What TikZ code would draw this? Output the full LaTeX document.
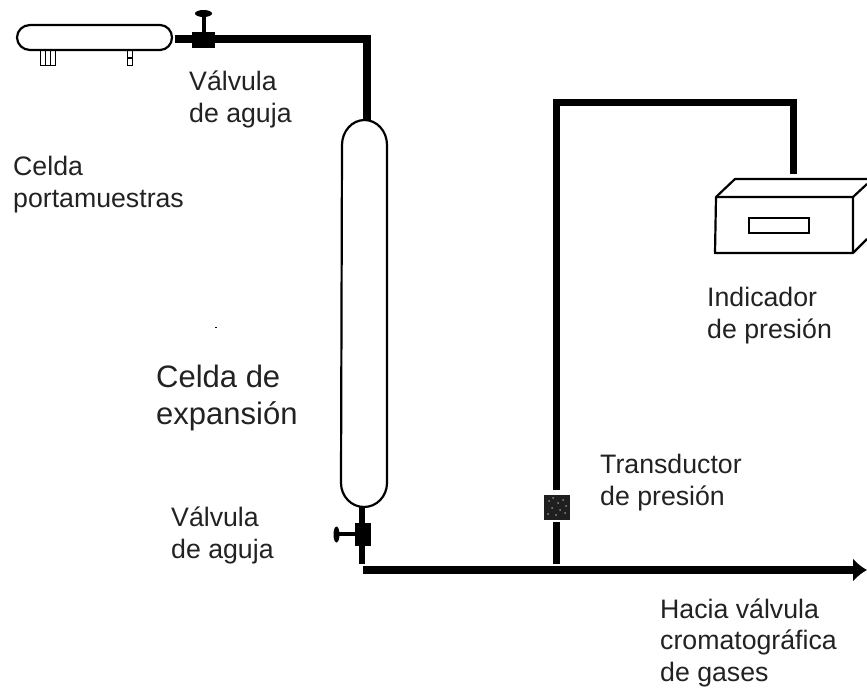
\documentclass[tikz,border=0pt]{standalone}
\usepackage{fontspec}
\setmainfont{Liberation Sans}
\usetikzlibrary{arrows.meta}
\definecolor{txt}{HTML}{222222}
\tikzset{
  x=1pt,y=-1pt,
  lab/.style={font=\fontsize{26.7}{31.3}\selectfont,text=txt,align=left,anchor=base west,inner sep=0pt},
  big/.style={font=\fontsize{31}{37}\selectfont,text=txt,align=left,anchor=base west,inner sep=0pt},
  pipe/.style={line width=8pt,black},
  thin pipe/.style={line width=7pt,black},
  outline/.style={line width=2.2pt,black,fill=white,line join=round},
  valve/.style={fill=black,draw=none,inner sep=0pt},
}
\begin{document}
\begin{tikzpicture}
\useasboundingbox (0,0) rectangle (867,688);
% sample cell
\draw[outline] (30,25) -- (160,25) arc[start angle=-90,end angle=90,x radius=12,y radius=12.5] -- (30,50) arc[start angle=90,end angle=270,x radius=13,y radius=12.5] -- cycle;
\node[draw=black,line width=1.5pt,minimum width=15pt,minimum height=15pt,inner sep=0pt] (legA) at (48,58) {};
\draw[line width=1.2pt] (45.5,51) -- (45.5,65) (50.5,51) -- (50.5,65);
\node[draw=black,line width=1.5pt,minimum width=5pt,minimum height=15pt,inner sep=0pt] (legB) at (130,58) {};
\draw[line width=1.2pt] (127,58) -- (133,58);
% top valve and pipe
\node[valve,minimum width=23pt,minimum height=16pt] (v1) at (203.5,39.5) {};
\coordinate (cellOut) at (175,39);
\coordinate (corner1) at (366.5,39);
\coordinate (expTop) at (366.5,122);
\draw[pipe,line join=miter] (cellOut) -- (corner1) -- (expTop);
\draw[line width=4pt] (204,32) -- (204,15);
\fill (203.5,13.5) ellipse[x radius=8.5,y radius=3.5];
% expansion cell
\draw[outline] (342,145) arc[start angle=180,end angle=360,x radius=22.5,y radius=25] -- (387,483) arc[start angle=0,end angle=180,x radius=23,y radius=24] -- cycle;
% bottom valve
\node[valve,minimum width=16pt,minimum height=23pt] (v2) at (363,534.5) {};
\coordinate (expBot) at (362,507);
\coordinate (stub) at (362,564);
\draw[line width=6pt] (expBot) -- (stub);
\draw[line width=3.5pt] (355,534) -- (338,534);
\fill (336.5,534.5) ellipse[x radius=3,y radius=8];
% main line
\coordinate (lineStart) at (363,570);
\coordinate (lineEnd) at (867,570);
\draw[pipe,-{Latex[length=14pt,width=24pt]}] (lineStart) -- (lineEnd);
% transducer
\node[fill=black!88,minimum width=26pt,minimum height=25pt,inner sep=0pt] (tr) at (557,507.5) {};
\foreach \px/\py in {549/501,553/498,558/503,563/500,566/506,552/508,560/510,565/513,548/514,556/515}
  \fill[black!45] (\px,\py) circle[radius=1];
\coordinate (tap) at (556.5,564);
\coordinate (corner2) at (556.5,102);
\coordinate (corner3) at (793.5,102);
\coordinate (indTop) at (793.5,174);
\draw[thin pipe] (tap) -- (556.5,522);
\draw[thin pipe,line join=miter] (556.5,490) -- (corner2) -- (corner3) -- (indTop);
% indicator
\draw[line width=2.2pt,line join=round] (716,197) -- (735,179) -- (867,179);
\draw[outline] (716,197) -- (853,197) -- (853,253) -- (715,253) -- cycle;
\draw[line width=2.2pt] (853,197) -- (867,184) (853,253) -- (867,239);
\node[draw=black,line width=2pt,minimum width=60pt,minimum height=15pt,inner sep=0pt] (disp) at (778.5,225.5) {};
% labels
\node[lab] (t1) at (189,122) {Válvula\\de aguja};
\node[lab] (t2) at (13,207) {Celda\\portamuestras};
\node[big] (t3) at (156,424) {Celda de\\expansión};
\node[lab] (t4) at (171,558) {Válvula\\de aguja};
\node[lab] (t5) at (707,338) {Indicador\\de presión};
\node[lab] (t6) at (600,505) {Transductor\\de presión};
\node[lab] (t7) at (660,681) {Hacia válvula\\cromatográfica\\de gases};
\fill (214.5,326.5) rectangle (217,328);
\end{tikzpicture}
\end{document}
